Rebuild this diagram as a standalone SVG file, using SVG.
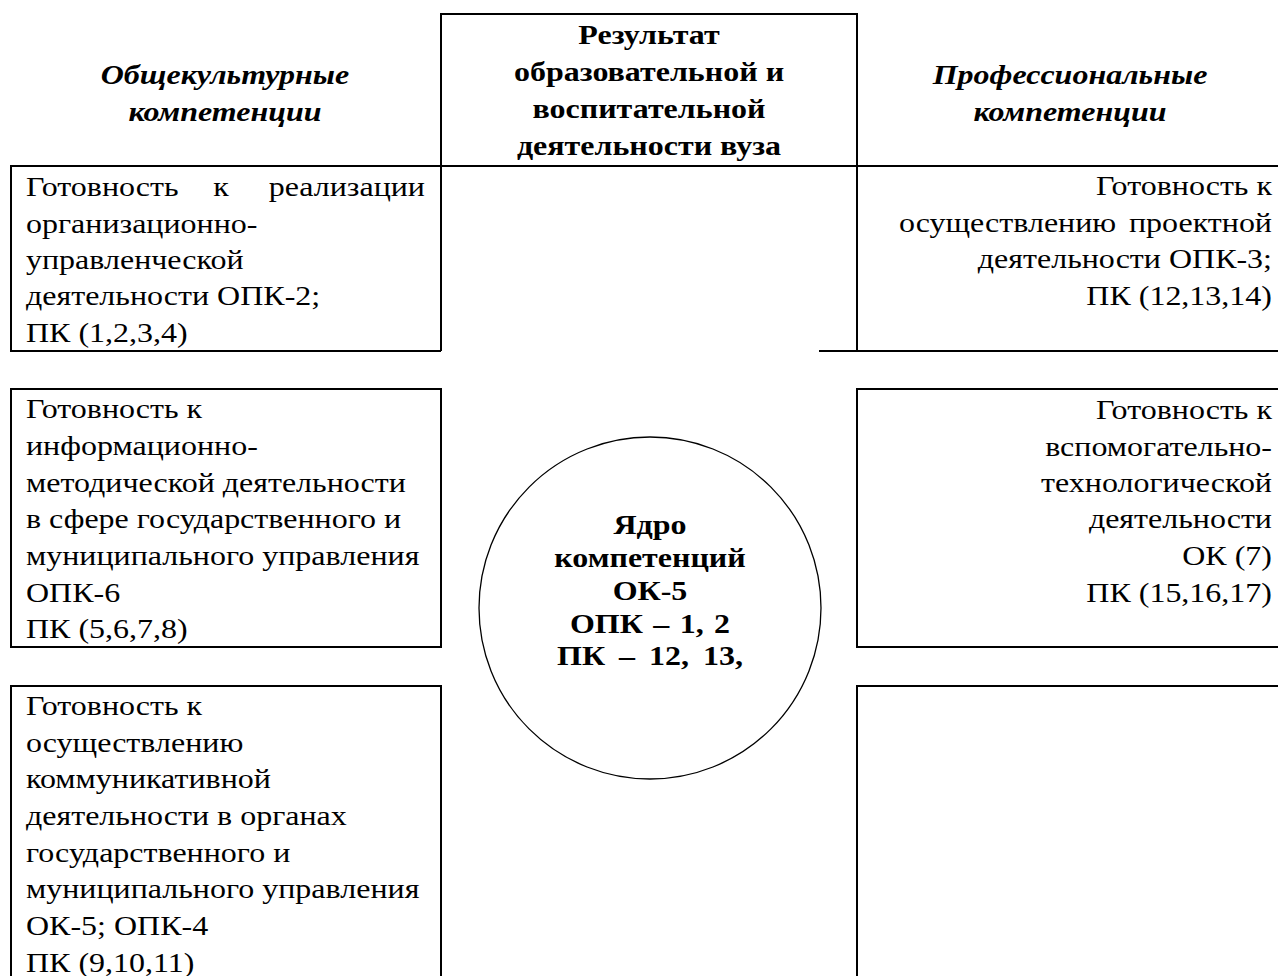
<svg xmlns="http://www.w3.org/2000/svg" width="1278" height="976" viewBox="0 0 1278 976">
<style>
.ln{fill:none;stroke:#000;stroke-width:2}
.t{font-family:"Liberation Serif","Times New Roman",serif;font-size:27px;fill:#000}
.b{font-weight:bold}
.h{font-weight:bold;font-style:italic}
.c{text-anchor:middle}
.r{text-anchor:end}
</style>
<rect width="1278" height="976" fill="#fff"/>
<g id="header-left" transform="translate(225,0) scale(1.185,1)">
<text class="t h c" x="0" y="84">Общекультурные</text>
<text class="t h c" x="0" y="121">компетенции</text>
</g>
<g id="header-center">
<path class="ln" d="M441,351 V14 H857 V351"/>
<g transform="translate(649,0) scale(1.185,1)">
<text class="t b c" x="0" y="44">Результат</text>
<text class="t b c" x="0" y="81">образовательной и</text>
<text class="t b c" x="0" y="118">воспитательной</text>
<text class="t b c" x="0" y="155">деятельности вуза</text>
</g>
</g>
<g id="header-right" transform="translate(1070,0) scale(1.185,1)">
<text class="t h c" x="0" y="84">Профессиональные</text>
<text class="t h c" x="0" y="121">компетенции</text>
</g>
<g id="table-lines">
<path class="ln" d="M10,166 H1278"/>
<path class="ln" d="M819,351 H1278"/>
</g>
<g id="box-l1">
<path class="ln" d="M11,166 V351 H441"/>
<text class="t" transform="translate(26,0) scale(1.185,1)" x="0" y="196">Готовность</text>
<text class="t c" transform="translate(221,0) scale(1.185,1)" x="0" y="196">к</text>
<text class="t r" transform="translate(425,0) scale(1.185,1)" x="0" y="196">реализации</text>
<g transform="translate(26,0) scale(1.185,1)">
<text class="t" x="0" y="233">организационно-</text>
<text class="t" x="0" y="269">управленческой</text>
<text class="t" x="0" y="305">деятельности ОПК-2;</text>
<text class="t" x="0" y="342">ПК (1,2,3,4)</text>
</g>
</g>
<g id="box-r1" transform="translate(1272,0) scale(1.185,1)">
<text class="t r" x="0" y="195">Готовность к</text>
<text class="t r" x="0" y="232" word-spacing="4">осуществлению проектной</text>
<text class="t r" x="0" y="268">деятельности ОПК-3;</text>
<text class="t r" x="0" y="305">ПК (12,13,14)</text>
</g>
<g id="box-l2">
<rect class="ln" x="11" y="389" width="430" height="258"/>
<g transform="translate(26,0) scale(1.185,1)">
<text class="t" x="0" y="418">Готовность к</text>
<text class="t" x="0" y="455">информационно-</text>
<text class="t" x="0" y="492">методической деятельности</text>
<text class="t" x="0" y="528">в сфере государственного и</text>
<text class="t" x="0" y="565">муниципального управления</text>
<text class="t" x="0" y="602">ОПК-6</text>
<text class="t" x="0" y="638">ПК (5,6,7,8)</text>
</g>
</g>
<g id="box-r2">
<path class="ln" d="M1280,389 H857 V647 H1280"/>
<g transform="translate(1272,0) scale(1.185,1)">
<text class="t r" x="0" y="419">Готовность к</text>
<text class="t r" x="0" y="456">вспомогательно-</text>
<text class="t r" x="0" y="492">технологической</text>
<text class="t r" x="0" y="528">деятельности</text>
<text class="t r" x="0" y="565">ОК (7)</text>
<text class="t r" x="0" y="602">ПК (15,16,17)</text>
</g>
</g>
<g id="box-l3">
<path class="ln" d="M11,980 V686 H441 V980"/>
<g transform="translate(26,0) scale(1.185,1)">
<text class="t" x="0" y="715">Готовность к</text>
<text class="t" x="0" y="752">осуществлению</text>
<text class="t" x="0" y="788">коммуникативной</text>
<text class="t" x="0" y="825">деятельности в органах</text>
<text class="t" x="0" y="862">государственного и</text>
<text class="t" x="0" y="898">муниципального управления</text>
<text class="t" x="0" y="935">ОК-5; ОПК-4</text>
<text class="t" x="0" y="972">ПК (9,10,11)</text>
</g>
</g>
<g id="box-r3">
<path class="ln" d="M1280,686 H857 V980"/>
</g>
<g id="core">
<circle cx="650" cy="608" r="171" fill="#fff" stroke="#000" stroke-width="1.3"/>
<g transform="translate(650,0) scale(1.185,1)">
<text class="t b c" x="0" y="534">Ядро</text>
<text class="t b c" x="0" y="567">компетенций</text>
<text class="t b c" x="0" y="600">ОК-5</text>
<text class="t b c" x="0" y="633" word-spacing="2">ОПК – 1, 2</text>
<text class="t b c" x="0" y="665" word-spacing="5">ПК – 12, 13,</text>
</g>
</g>
</svg>
